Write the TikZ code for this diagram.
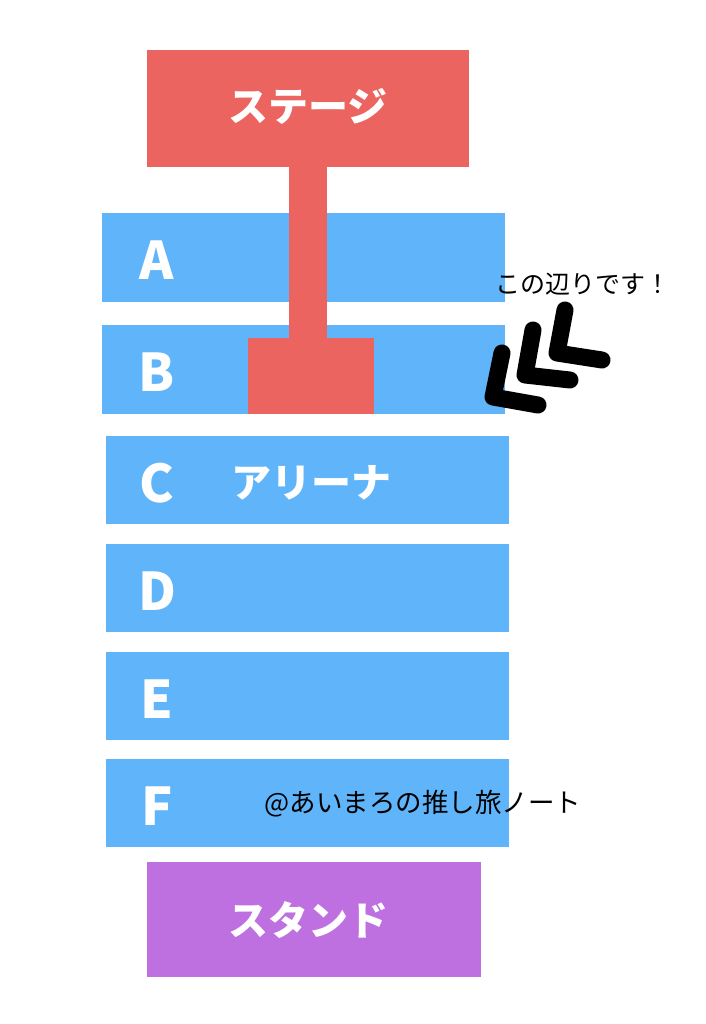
\documentclass[tikz,border=0pt]{standalone}
\usepackage{fontspec}
\newfontfamily\jpfont{Noto Sans CJK JP}
\usetikzlibrary{positioning}
\definecolor{stagered}{RGB}{236,100,96}
\definecolor{arenablue}{RGB}{96,180,250}
\definecolor{standpurple}{RGB}{190,112,224}

\begin{document}
\begin{tikzpicture}[x=1pt, y=-1pt, inner sep=0pt,
	block/.style={rectangle, minimum width=#1},
	row/.style={block=403, minimum height=89, fill=arenablue},
	letter/.style={text=white, font=\jpfont\bfseries\fontsize{52}{52}\selectfont},
	title/.style={text=white, font=\jpfont\bfseries\fontsize{40}{40}\selectfont},
	note/.style={text=black, font=\jpfont\fontsize{#1}{#1}\selectfont},
	chevron/.style={draw=black, line width=17pt, line cap=round, line join=round}]
	\useasboundingbox (0,0) rectangle (705,1024);

	% arena rows
	\node[row]   		(rA)  at (303.5,257.5)  	{};
	\node[row]   		(rB)  at (303.5,369.5)  	{};
	\node[row, minimum height=88]   	(rC)  at (307.5,480)  	{};
	\node[row, minimum height=88]   	(rD)  at (307.5,588)  	{};
	\node[row, minimum height=88]   	(rE)  at (307.5,696)  	{};
	\node[row, minimum height=88]   	(rF)  at (307.5,803)  	{};

	% stage and runway
	\node[block=322, minimum height=117, fill=stagered]   	(stage)  at (308,108.5)  	{};
	\node[block=126, minimum height=76, fill=stagered]   	(foot)   at (311,376)  	{};
	\draw[stagered, line width=38pt] 	(stage.south) -- (stage.south |- foot.north);

	% stand
	\node[block=334, minimum height=115, fill=standpurple]   	(stand)  at (314,919.5)  	{};

	% labels
	\node[title]   	(tstage)  at (308,106)  	{ステージ};
	\node[title]   	(tarena)  at (311,483)  	{アリーナ};
	\node[title]   	(tstand)  at (308,920)  	{スタンド};
	\foreach \r in {A,...,F}
		\node[letter]   	(l\r)  at ([yshift=-3pt]157,0 |- r\r.center)  	{\r};

	\node[note=25]   	(here)  at (583,284)  	{この辺りです！};
	\node[note=26.5]   	(credit)  at (423,804)  	{@あいまろの推し旅ノート};

	% arrows pointing at B
	\draw[chevron] 	(565,310) -- (557,353) -- (602,360);
	\draw[chevron] 	(533,330) -- (525,375) -- (570,380);
	\draw[chevron] 	(502,353) -- (493,397) -- (538,405);
\end{tikzpicture}
\end{document}
